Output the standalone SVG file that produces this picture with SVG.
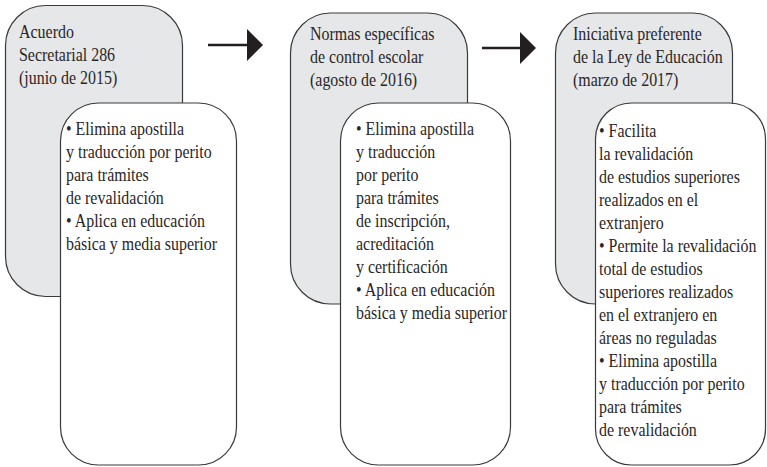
<svg xmlns="http://www.w3.org/2000/svg" width="767" height="467" viewBox="0 0 767 467">
<style>
.head{fill:#e6e7e8;stroke:#3a3a3a;stroke-width:1.2}
.body{fill:#ffffff;stroke:#3a3a3a;stroke-width:1.2}
text{font-family:"Liberation Serif","Times New Roman",serif;font-size:19px;fill:#2a2627}
.conn line{stroke:#231f20;stroke-width:2.6}
.conn polygon{fill:#231f20}
</style>
<rect width="767" height="467" fill="#ffffff"/>
<g id="stage-2015">
  <rect class="head" x="5.5" y="5.5" width="177" height="291" rx="40" ry="40"/>
  <rect class="body" x="60.5" y="103" width="176" height="362" rx="38" ry="38"/>
  <g transform="translate(19,0) scale(0.84,1)">
    <text x="0" y="38">Acuerdo</text>
    <text x="0" y="61">Secretarial 286</text>
    <text x="0" y="84">(junio de 2015)</text>
  </g>
  <g transform="translate(66,0) scale(0.84,1)">
    <text x="0" y="135">• Elimina apostilla</text>
    <text x="0" y="158">y traducción por perito</text>
    <text x="0" y="181">para trámites</text>
    <text x="0" y="204">de revalidación</text>
    <text x="0" y="227">• Aplica en educación</text>
    <text x="0" y="250">básica y media superior</text>
  </g>
</g>
<g id="stage-2016">
  <rect class="head" x="290.5" y="13" width="177" height="291" rx="40" ry="40"/>
  <rect class="body" x="340.5" y="103" width="170" height="362" rx="38" ry="38"/>
  <g transform="translate(310,0) scale(0.84,1)">
    <text x="0" y="40">Normas específicas</text>
    <text x="0" y="63">de control escolar</text>
    <text x="0" y="86">(agosto de 2016)</text>
  </g>
  <g transform="translate(356,0) scale(0.84,1)">
    <text x="0" y="135">• Elimina apostilla</text>
    <text x="0" y="158">y traducción</text>
    <text x="0" y="181">por perito</text>
    <text x="0" y="204">para trámites</text>
    <text x="0" y="227">de inscripción,</text>
    <text x="0" y="250">acreditación</text>
    <text x="0" y="273">y certificación</text>
    <text x="0" y="296">• Aplica en educación</text>
    <text x="0" y="319">básica y media superior</text>
  </g>
</g>
<g id="stage-2017">
  <rect class="head" x="555.5" y="13" width="177" height="291" rx="40" ry="40"/>
  <rect class="body" x="595.5" y="103" width="170" height="362" rx="36" ry="36"/>
  <g transform="translate(573,0) scale(0.84,1)">
    <text x="0" y="40">Iniciativa preferente</text>
    <text x="0" y="63">de la Ley de Educación</text>
    <text x="0" y="86">(marzo de 2017)</text>
  </g>
  <g transform="translate(599,0) scale(0.84,1)">
    <text x="0" y="137">• Facilita</text>
    <text x="0" y="160">la revalidación</text>
    <text x="0" y="183">de estudios superiores</text>
    <text x="0" y="206">realizados en el</text>
    <text x="0" y="229">extranjero</text>
    <text x="0" y="252">• Permite la revalidación</text>
    <text x="0" y="275">total de estudios</text>
    <text x="0" y="298">superiores realizados</text>
    <text x="0" y="321">en el extranjero en</text>
    <text x="0" y="344">áreas no reguladas</text>
    <text x="0" y="367">• Elimina apostilla</text>
    <text x="0" y="390">y traducción por perito</text>
    <text x="0" y="413">para trámites</text>
    <text x="0" y="436">de revalidación</text>
  </g>
</g>
<g id="connectors" class="conn">
  <line x1="208" y1="45" x2="249" y2="45"/>
  <polygon points="247,29 263,45 247,61"/>
  <line x1="482" y1="48" x2="522" y2="48"/>
  <polygon points="520,32 536,48 520,64"/>
</g>
</svg>
